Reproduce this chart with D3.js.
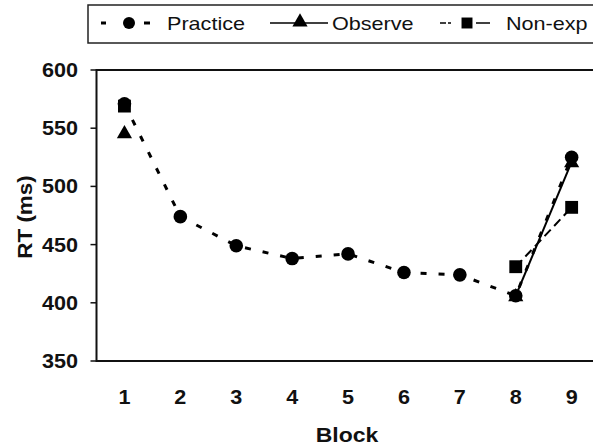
<!DOCTYPE html>
<html>
<head>
<meta charset="utf-8">
<script src="https://cdn.jsdelivr.net/npm/d3@7"></script>
<style>
  body { margin: 0; background: #fff; }
  svg { display: block; font-family: "Liberation Sans", Arial, sans-serif; }
</style>
</head>
<body>
<div id="chart"></div>
<script>
const blocks = ["1", "2", "3", "4", "5", "6", "7", "8", "9"]
const practice = [571, 474, 449, 438, 442, 426, 424, 406, 525]
const observe = [[1, 546], [8, 406], [9, 521]]
const nonexp = [[1, 569], [8, 431], [9, 482]]
const yTicks = [350, 400, 450, 500, 550, 600]

const width = 593, height = 447

const svg = d3.select("#chart").append("svg")
    .attr("width", width)
    .attr("height", height)

const x = d3.scaleBand()
    .domain(blocks)
    .range([96.5, 96.5 + 9 * 55.9])

const y = d3.scaleLinear()
    .domain([350, 600])
    .range([361, 70])

const cx = b => x(String(b)) + x.bandwidth() / 2

// the scanned text is a bit stretched sideways, hence the scale
const addText = (g, tx, ty, str, opts) => {
    const sx = opts.sx || 1.08
    const t = g.append("text")
        .attr("transform", `translate(${tx},${ty})` + (opts.rotate ? ` rotate(${opts.rotate})` : "") + ` scale(${sx},1)`)
        .attr("text-anchor", opts.anchor || "start")
        .style("font-size", (opts.size || 20) + "px")
        .style("font-weight", opts.bold ? "700" : "400")
        .attr("fill", "#111")
        .text(str)
    return t
}

// frame
svg.append("path")
    .attr("d", `M${width + 5},${y(600)} H${x.range()[0]} V${y(350)} H${width + 5}`)
    .attr("fill", "none")
    .attr("stroke", "#111")
    .attr("stroke-width", 2)

// y ticks
const yAxis = svg.append("g")
yAxis.selectAll("line")
    .data(yTicks)
    .join("line")
    .attr("x1", x.range()[0] - 6)
    .attr("x2", x.range()[0])
    .attr("y1", d => y(d))
    .attr("y2", d => y(d))
    .attr("stroke", "#111")
    .attr("stroke-width", 1.5)
yTicks.forEach(d => addText(yAxis, 78, y(d) + 7, d, { anchor: "end", bold: true }))

// x tick labels
const xAxis = svg.append("g")
blocks.forEach(b => addText(xAxis, cx(b), 404, b, { anchor: "middle", bold: true }))

addText(svg, 347, 442, "Block", { anchor: "middle", bold: true, sx: 1.15 })
addText(svg, 32, 217, "RT (ms)", { anchor: "middle", bold: true, rotate: -90, sx: 1.12 })

const line = d3.line().x(d => cx(d[0])).y(d => y(d[1]))
const practicePts = practice.map((v, i) => [i + 1, v])

const lines = svg.append("g").attr("fill", "none").attr("stroke", "#000")
lines.append("path")
    .attr("d", line(practicePts))
    .attr("stroke-width", 3)
    .attr("stroke-dasharray", "6,12")
lines.append("path")
    .attr("d", line(nonexp.slice(1)))
    .attr("stroke-width", 2)
    .attr("stroke-dasharray", "9,5")
lines.append("path")
    .attr("d", line(observe.slice(1)))
    .attr("stroke-width", 2)

const tri = d3.symbol().type(d3.symbolTriangle).size(100)
const sq = d3.symbol().type(d3.symbolSquare).size(165)

const marks = svg.append("g").attr("fill", "#000")
marks.selectAll("path.sq")
    .data(nonexp)
    .join("path")
    .attr("class", "sq")
    .attr("d", sq)
    .attr("transform", d => `translate(${cx(d[0])},${y(d[1])})`)
marks.selectAll("path.tri")
    .data(observe)
    .join("path")
    .attr("class", "tri")
    .attr("d", tri)
    .attr("transform", d => `translate(${cx(d[0])},${y(d[1]) + 1})`)
marks.selectAll("circle")
    .data(practicePts)
    .join("circle")
    .attr("cx", d => cx(d[0]))
    .attr("cy", d => y(d[1]))
    .attr("r", 6.8)

// legend
const lg = svg.append("g")
lg.append("rect")
    .attr("x", 88)
    .attr("y", 5)
    .attr("width", width)
    .attr("height", 38)
    .attr("fill", "#fff")
    .attr("stroke", "#222")
    .attr("stroke-width", 1.5)
const ly = 23
lg.append("line").attr("x1", 101).attr("x2", 106).attr("y1", ly).attr("y2", ly)
    .attr("stroke", "#000").attr("stroke-width", 3)
lg.append("line").attr("x1", 144).attr("x2", 150).attr("y1", ly).attr("y2", ly)
    .attr("stroke", "#000").attr("stroke-width", 3)
lg.append("circle").attr("cx", 129).attr("cy", ly).attr("r", 6)
addText(lg, 167, ly + 7, "Practice", { size: 18, sx: 1.2 })

lg.append("line").attr("x1", 270).attr("x2", 328).attr("y1", ly).attr("y2", ly)
    .attr("stroke", "#000").attr("stroke-width", 1.5)
lg.append("path").attr("d", tri).attr("transform", `translate(300,${ly - 1})`)
addText(lg, 332, ly + 7, "Observe", { size: 18, sx: 1.2 })

lg.append("line").attr("x1", 440).attr("x2", 451).attr("y1", ly).attr("y2", ly)
    .attr("stroke", "#000").attr("stroke-width", 1.5).attr("stroke-dasharray", "6,2")
lg.append("line").attr("x1", 476).attr("x2", 490).attr("y1", ly).attr("y2", ly)
    .attr("stroke", "#000").attr("stroke-width", 1.5)
lg.append("path").attr("d", d3.symbol().type(d3.symbolSquare).size(120)).attr("transform", `translate(467,${ly})`)
addText(lg, 506, ly + 7, "Non-exp", { size: 18, sx: 1.2 })
</script>
</body>
</html>
